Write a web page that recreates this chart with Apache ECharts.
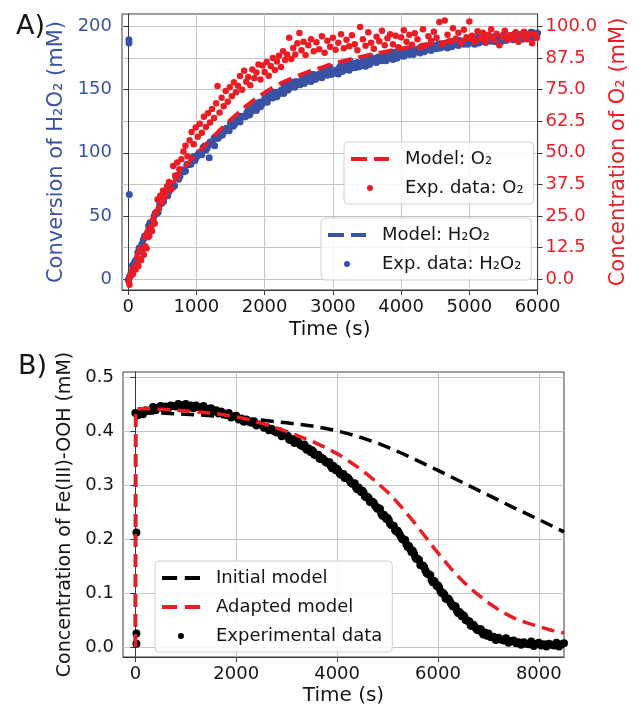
<!DOCTYPE html>
<html><head><meta charset="utf-8">
<script src="https://cdn.jsdelivr.net/npm/echarts@6/dist/echarts.min.js"></script>
<style>html,body{margin:0;padding:0;background:#fff}#c{width:637px;height:707px}</style>
</head><body><div id="c"></div>
<script>
const FONT = 'DejaVu Sans';
const BLUE = '#3a52a4';
const RED = '#ec1c24';
const INK = '#151515';

// ---------- Panel A ----------
const xTicksA = [0, 1000, 2000, 3000, 4000, 5000, 6000];
const yTicksA = [0, 50, 100, 150, 200];
const yTicksA2 = [0, 12.5, 25, 37.5, 50, 62.5, 75, 87.5, 100];

// Exp. data H2O2 (time s, conversion mM)
const h2o2Exp = [[0,-0.5],[40,4.5],[80,12],[120,15.5],[160,24.5],[200,27.5],[240,34],[280,35],[320,44.5],[360,45.5],
[400,52.5],[440,53],[480,59.5],[520,61.5],[560,68.5],[600,69.5],[640,74],[680,74],[720,82],[760,81.5],
[800,86.5],[840,85.5],[880,90.5],[920,91],[960,97],[1000,96.5],[1040,100],[1080,98.5],[1120,105.5],[1160,104],
[1200,108.5],[1240,107],[1280,111.5],[1320,111.5],[1360,117],[1400,116.5],[1440,119.5],[1480,117.5],[1520,124.5],[1560,122.5],
[1600,126.5],[1640,124.5],[1680,128.5],[1720,128.5],[1760,133.5],[1800,132.5],[1840,135.5],[1880,133.5],[1920,140],[1960,138.5],
[2000,142.5],[2040,140],[2080,144],[2120,143.5],[2160,148],[2200,146.5],[2240,149.5],[2280,147],[2320,153.5],[2360,151],
[2400,154.5],[2440,152],[2480,155.5],[2520,154],[2560,158.5],[2600,156.5],[2640,159],[2680,156.5],[2720,162],[2760,159],
[2800,162.5],[2840,159.5],[2880,162.5],[2920,161.5],[2960,165.5],[3000,163.5],[3040,165.5],[3080,162.5],[3120,168.5],[3160,165.5],
[3200,168.5],[3240,165.5],[3280,168.5],[3320,167.5],[3360,171.5],[3400,169.5],[3440,171.5],[3480,168.5],[3520,174.5],[3560,171.5],
[3600,174.5],[3640,171.5],[3680,174.5],[3720,173],[3760,177],[3800,175],[3840,177],[3880,174],[3920,179.5],[3960,176.5],
[4000,179.5],[4040,176.5],[4080,179.5],[4120,178],[4160,182],[4200,180],[4240,182],[4280,179],[4320,184.5],[4360,181.5],
[4400,184],[4440,181],[4480,184],[4520,182.5],[4560,186.5],[4600,184.5],[4640,186],[4680,183],[4720,188.5],[4760,185],
[4800,188],[4840,185],[4880,187.5],[4920,186],[4960,190],[5000,187.5],[5040,189.5],[5080,186],[5120,191.5],[5160,188],
[5200,191],[5240,187.5],[5280,190.5],[5320,188.5],[5360,192],[5400,190],[5440,191.5],[5480,188.5],[5520,193.5],[5560,190],
[5600,193],[5640,189.5],[5680,192.5],[5720,190.5],[5760,194],[5800,192],[5840,193.5],[5880,190.5],[5920,195.5],[5960,192],
[6000,195],
[20,2],[60,10.5],[100,14],[140,21],[180,23],[220,31],[260,33.5],[300,42],[340,42],[380,50],
[420,52],[460,59],[500,60.5],[540,66],[580,66],[620,72],[660,73],[700,80.5],[740,79],[780,85],
[820,85],[860,91],[900,91],[940,95],[980,94],[1020,98.5],[1060,98.5],[1100,104.5],[1140,102],[1180,107],
[1220,107],[1260,112],[1300,111.5],[1340,115.5],[1380,114],[1420,118],[1460,118],[1500,123.5],[1540,121],[1580,125],
[1620,125],[1660,129],[1700,128.5],[1740,132],[1780,130],[1820,134],[1860,134],[1900,139],[1940,136.5],[1980,141],
[2020,140.5],[2060,145],[2100,144],[2140,147],[2180,144.5],[2220,148],[2260,147.5],[2300,153],[2340,149.5],[2380,153.5],
[2420,152.5],[2460,156.5],[2500,155],[2540,157.5],[2580,155],[2620,158],[2660,157],[2700,162],[2740,158],[2780,161.5],
[2820,160.5],[2860,164],[2900,162],[2940,165],[2980,162],[3020,165],[3060,163],[3100,168],[3140,164.5],[3180,168],
[3220,166],[3260,170],[3300,168],[3340,171],[3380,168],[3420,171],[3460,169],[3500,174],[3540,170],[3580,174],
[3620,172],[3660,176],[3700,174],[3740,176],[3780,173],[3820,176],[3860,175],[3900,179],[3940,175],[3980,179],
[4020,177],[4060,181],[4100,179],[4140,181],[4180,178],[4220,181],[4260,180],[4300,184],[4340,180],[4380,183.5],
[4420,182],[4460,185],[4500,183],[4540,186],[4580,183],[4620,185.5],[4660,184],[4700,188],[4740,184],[4780,187],
[4820,186],[4860,189],[4900,187],[4940,189],[4980,186],[5020,189],[5060,187],[5100,191],[5140,187],[5180,190],
[5220,188.5],[5260,192],[5300,189.5],[5340,191.5],[5380,188],[5420,191],[5460,189],[5500,193.5],[5540,189],[5580,192],
[5620,190.5],[5660,194],[5700,191.5],[5740,193.5],[5780,190],[5820,193],[5860,191],[5900,195.5],[5940,191],[5980,194],
[12,189.5],[12,187],[18,67],[1188,96],[1268,105.7]];

// Model H2O2 (time s, conversion mM)
const h2o2Model = [[0,0],[100,15],[200,29],[300,41],[400,52],[500,62],[600,71],[700,79],[800,86],[900,92],[1000,98],
[1200,108],[1400,118],[1600,128],[1800,137],[2000,145],[2200,151],[2400,157],[2600,161],[2800,165],[3000,169],
[3250,173],[3500,176],[3750,179],[4000,182],[4250,184],[4500,186],[4750,188],[5000,189.5],[5500,192],[6000,194]];

// Exp. data O2 (time s, concentration mM)
const o2Exp = [[10,-1.0],[20,-2.3],[30,0.8],[50,1.5],[70,2.0],[90,4.5],[110,3.8],[130,6.0],[150,5.2],[170,8.0],
[190,7.4],[210,11.5],[230,9.6],[250,13.0],[270,12.2],[290,16.5],[310,17.0],[330,20.5],[350,19.0],[370,23.4],
[390,22.0],[410,26.5],[430,31.5],[450,28.0],[470,33.0],[490,30.2],[510,35.0],[540,32.5],[570,36.8],[600,38.4],
[630,35.6],[660,44.8],[690,41.0],[720,46.2],[750,43.5],[780,47.5],[810,50.5],[840,52.8],[870,48.6],[900,55.0],
[930,58.2],[960,53.4],[990,60.0],[1020,56.4],[1050,61.5],[1080,58.0],[1110,64.3],[1140,60.2],[1170,65.7],[1200,62.0],
[1230,67.4],[1260,63.8],[1290,69.6],[1310,76.5],[1340,66.0],[1370,71.8],[1400,68.5],[1430,74.5],[1460,70.2],[1490,76.0],
[1520,72.4],[1550,78.0],[1580,74.0],[1610,76.6],[1640,80.4],[1670,75.0],[1700,82.5],[1730,78.2],[1760,80.0],[1790,76.8],
[1820,83.0],[1850,79.5],[1880,81.8],[1910,85.0],[1940,79.0],[1970,84.6],[2000,82.0],[2030,86.0],[2060,80.5],[2090,84.4],
[2120,87.6],[2150,82.8],[2180,86.2],[2210,88.5],[2240,84.0],[2270,90.2],[2300,86.8],[2330,89.0],[2360,95.6],[2390,87.2],
[2420,91.5],[2450,89.0],[2480,93.4],[2510,97.5],[2540,90.6],[2570,94.0],[2600,88.8],[2640,92.6],[2680,95.0],[2720,90.2],
[2760,93.8],[2800,91.0],[2840,96.2],[2880,89.6],[2920,94.4],[2960,92.0],[3000,95.6],[3040,90.8],[3080,93.6],[3120,97.0],
[3160,91.4],[3200,94.8],[3240,92.2],[3280,96.6],[3320,93.0],[3360,90.6],[3400,99.8],[3440,95.0],[3480,92.4],[3520,97.8],
[3560,93.6],[3600,91.2],[3640,96.0],[3680,94.2],[3720,98.4],[3760,92.6],[3800,95.4],[3840,97.0],[3880,93.0],[3920,96.4],
[3960,91.8],[4000,95.8],[4040,98.6],[4080,94.0],[4120,96.8],[4160,92.8],[4200,97.4],[4240,95.0],[4280,91.8],[4320,99.0],
[4360,92.4],[4400,96.2],[4440,94.4],[4480,98.0],[4520,95.6],[4560,101.8],[4600,93.0],[4640,102.4],[4680,96.8],[4720,94.2],
[4760,99.4],[4800,95.2],[4840,97.6],[4880,93.4],[4920,98.8],[4960,95.8],[5000,102.0],[5040,96.4],[5080,94.0],[5120,98.2],
[5160,95.2],[5200,97.6],[5240,93.8],[5280,96.8],[5320,99.0],[5360,94.6],[5400,97.2],[5440,92.6],[5480,96.0],[5520,98.4],
[5560,94.8],[5600,96.6],[5640,95.2],[5680,97.8],[5720,94.0],[5760,96.4],[5800,98.0],[5840,95.0],[5880,97.2],[5920,93.4],
[5960,96.8],[5990,95.6]];

// Model O2 (time s, concentration mM)
const o2Model = [[0,0],[100,7.5],[200,14.5],[300,20.5],[400,26],[500,31],[600,35.5],[700,39.5],[800,43.2],[900,46.5],
[1000,49.5],[1200,55],[1400,60.5],[1600,65.5],[1800,70],[2000,73.8],[2200,77],[2400,79.5],[2600,81.7],[2800,83.5],
[3000,85.2],[3250,87],[3500,88.6],[3750,90],[4000,91.3],[4250,92.5],[4500,93.5],[4750,94.3],[5000,95],[5500,96.2],[6000,97.2]];

// ---------- Panel B ----------
const xTicksB = [0, 2000, 4000, 6000, 8000];
const yTicksB = [0, 0.1, 0.2, 0.3, 0.4, 0.5];

const feExp = [[20,0.006],[20,0.025],[20,0.212],
[0,0.433],[50,0.429],[100,0.433],[150,0.431],[200,0.438],[250,0.437],[300,0.438],[350,0.444],[400,0.438],[450,0.443],
[500,0.446],[550,0.442],[600,0.445],[650,0.442],[700,0.447],[750,0.446],[800,0.445],[850,0.450],[900,0.444],[950,0.448],
[1000,0.450],[1050,0.444],[1100,0.447],[1150,0.442],[1200,0.447],[1250,0.444],[1300,0.442],[1350,0.446],[1400,0.438],[1450,0.441],
[1500,0.442],[1550,0.436],[1600,0.438],[1650,0.432],[1700,0.436],[1750,0.432],[1800,0.430],[1850,0.433],[1900,0.425],[1950,0.427],
[2000,0.428],[2050,0.421],[2100,0.423],[2150,0.417],[2200,0.421],[2250,0.417],[2300,0.415],[2350,0.418],[2400,0.410],[2450,0.412],
[2500,0.412],[2550,0.406],[2600,0.407],[2650,0.401],[2700,0.404],[2750,0.400],[2800,0.397],[2850,0.400],[2900,0.390],[2950,0.392],
[3000,0.392],[3050,0.384],[3100,0.385],[3150,0.378],[3200,0.381],[3250,0.376],[3300,0.372],[3350,0.375],[3400,0.365],[3450,0.366],
[3500,0.364],[3550,0.356],[3600,0.356],[3650,0.349],[3700,0.350],[3750,0.345],[3800,0.341],[3850,0.342],[3900,0.331],[3950,0.332],
[4000,0.330],[4050,0.321],[4100,0.320],[4150,0.313],[4200,0.314],[4250,0.308],[4300,0.302],[4350,0.303],[4400,0.292],[4450,0.291],
[4500,0.289],[4550,0.279],[4600,0.278],[4650,0.269],[4700,0.269],[4750,0.262],[4800,0.256],[4850,0.256],[4900,0.243],[4950,0.242],
[5000,0.239],[5050,0.228],[5100,0.225],[5150,0.216],[5200,0.215],[5250,0.207],[5300,0.199],[5350,0.198],[5400,0.185],[5450,0.182],
[5500,0.178],[5550,0.166],[5600,0.163],[5650,0.152],[5700,0.151],[5750,0.142],[5800,0.135],[5850,0.133],[5900,0.120],[5950,0.118],
[6000,0.114],[6050,0.103],[6100,0.100],[6150,0.090],[6200,0.090],[6250,0.082],[6300,0.075],[6350,0.075],[6400,0.063],[6450,0.062],
[6500,0.059],[6550,0.050],[6600,0.048],[6650,0.040],[6700,0.041],[6750,0.035],[6800,0.031],[6850,0.033],[6900,0.023],[6950,0.025],
[7000,0.025],[7050,0.018],[7100,0.019],[7150,0.013],[7200,0.017],[7250,0.014],[7300,0.012],[7350,0.016],[7400,0.008],[7450,0.011],
[7500,0.012],[7550,0.007],[7600,0.009],[7650,0.004],[7700,0.009],[7750,0.006],[7800,0.005],[7850,0.010],[7900,0.002],[7950,0.006],
[8000,0.008],[8050,0.003],[8100,0.005],[8150,0.001],[8200,0.006],[8250,0.004],[8300,0.003],[8350,0.008],[8400,0.001],[8450,0.005],
[8500,0.007],
[3025,0.390],[3075,0.383],[3125,0.384],[3175,0.378],[3225,0.380],[3275,0.374],[3325,0.374],[3375,0.368],[3425,0.368],[3475,0.361],
[3525,0.362],[3575,0.356],[3625,0.356],[3675,0.348],[3725,0.348],[3775,0.342],[3825,0.342],[3875,0.335],[3925,0.335],[3975,0.327],
[4025,0.326],[4075,0.319],[4125,0.320],[4175,0.313],[4225,0.312],[4275,0.304],[4325,0.302],[4375,0.295],[4425,0.295],[4475,0.287],
[4525,0.286],[4575,0.277],[4625,0.276],[4675,0.268],[4725,0.267],[4775,0.259],[4825,0.257],[4875,0.247],[4925,0.245],[4975,0.237],
[5025,0.235],[5075,0.226],[5125,0.224],[5175,0.214],[5225,0.211],[5275,0.202],[5325,0.199],[5375,0.190],[5425,0.187],[5475,0.176],
[5525,0.173],[5575,0.163],[5625,0.161],[5675,0.151],[5725,0.148],[5775,0.137],[5825,0.134],[5875,0.124],[5925,0.122],[5975,0.113],
[6025,0.110],[6075,0.100],[6125,0.097],[6175,0.089],[6225,0.087],[6275,0.078],[6325,0.076],[6375,0.067],[6425,0.065],[6475,0.057],
[6525,0.056],[6575,0.049],[6625,0.047],[6675,0.039],[6725,0.038],[6775,0.032],[6825,0.033],[6875,0.027],[6925,0.027],[6975,0.021]];

const initialModel = [[0,0],[5,0.434],[500,0.433],[1000,0.431],[1500,0.428],[2000,0.424],[2500,0.420],[3000,0.415],[3500,0.409],
[3750,0.405],[4000,0.400],[4250,0.394],[4500,0.387],[4750,0.379],[5000,0.370],[5250,0.360],[5500,0.349],[5750,0.338],[6000,0.327],
[6500,0.304],[7000,0.281],[7500,0.258],[8000,0.236],[8500,0.213]];

const adaptedModel = [[0,0],[5,0.441],[250,0.441],[500,0.440],[750,0.439],[1000,0.437],[1250,0.435],[1500,0.433],[1750,0.430],
[2000,0.426],[2250,0.421],[2500,0.414],[2750,0.407],[3000,0.399],[3250,0.390],[3500,0.381],[3750,0.370],[4000,0.358],[4250,0.343],
[4500,0.327],[4750,0.308],[5000,0.287],[5250,0.262],[5500,0.234],[5750,0.204],[6000,0.174],[6250,0.146],[6500,0.121],[6750,0.100],
[7000,0.082],[7250,0.066],[7500,0.054],[7750,0.045],[8000,0.038],[8250,0.031],[8500,0.026]];

// ---------- chart ----------
const chart = echarts.init(document.getElementById('c'), null, {renderer: 'canvas'});

const DASH_A = 'path://M0,0H16V4H0Z M23,0H38V4H23Z';
const DASH_B = 'path://M0,0H14V3.5H0Z M21,0H35V3.5H21Z';

const gridLine = {show: true, lineStyle: {color: '#c6c6c6', width: 1}};
function xAxisCfg(grid, min, max, ticks, gap) {
  return {
    gridIndex: grid, type: 'value', min: min, max: max,
    axisLine: {show: true, onZero: false, lineStyle: {color: '#3a3a3a'}},
    axisTick: {show: true, length: 5, customValues: ticks, lineStyle: {color: '#3a3a3a'}},
    axisLabel: {customValues: ticks, formatter: v => String(v), color: INK, fontSize: 18, fontFamily: FONT, margin: 8},
    splitLine: gridLine,
    name: 'Time (s)', nameLocation: 'middle', nameGap: gap,
    nameTextStyle: {fontSize: 20, color: INK, fontFamily: FONT}
  };
}
const legendBase = {
  orient: 'vertical', itemWidth: 38, itemHeight: 6, itemGap: 9, selectedMode: false,
  padding: [7, 10, 6, 7], backgroundColor: 'rgba(255,255,255,0.85)',
  borderColor: '#d0d0d0', borderWidth: 1, borderRadius: 4,
  textStyle: {fontFamily: FONT, fontSize: 18, color: INK, lineHeight: 20, padding: [0, 0, 0, 11]}
};

chart.setOption({
  animation: false,
  backgroundColor: '#ffffff',
  title: [
    {text: 'A)', left: 11, top: 8, textStyle: {fontSize: 27, fontWeight: 'normal', fontFamily: FONT, color: INK}},
    {text: 'B)', left: 13, top: 348, textStyle: {fontSize: 27, fontWeight: 'normal', fontFamily: FONT, color: INK}}
  ],
  grid: [
    {left: 122, top: 14, width: 427, height: 276, show: true, borderColor: '#3a3a3a', borderWidth: 1, backgroundColor: 'transparent'},
    {left: 123, top: 372, width: 441, height: 285, show: true, borderColor: '#3a3a3a', borderWidth: 1, backgroundColor: 'transparent'}
  ],
  xAxis: [
    xAxisCfg(0, -90, 6000, xTicksA, 30),
    xAxisCfg(1, -246, 8500, xTicksB, 29)
  ],
  yAxis: [
    {gridIndex: 0, type: 'value', position: 'left', min: -8.7, max: 210,
     axisLine: {show: true, lineStyle: {color: '#3a3a3a'}},
     axisTick: {show: true, length: 5, customValues: yTicksA, lineStyle: {color: '#3a3a3a'}},
     axisLabel: {customValues: yTicksA, formatter: v => String(v), color: BLUE, fontSize: 18, fontFamily: FONT, margin: 10},
     splitLine: gridLine,
     name: 'Conversion of H\u2082O\u2082 (mM)', nameLocation: 'middle', nameRotate: 90, nameGap: 52,
     nameTextStyle: {fontSize: 21, color: BLUE, fontFamily: FONT}},
    {gridIndex: 0, type: 'value', position: 'right', min: -4.35, max: 105,
     axisLine: {show: true, lineStyle: {color: '#3a3a3a'}},
     axisTick: {show: true, length: 5, customValues: yTicksA2, lineStyle: {color: '#3a3a3a'}},
     axisLabel: {customValues: yTicksA2, formatter: v => v.toFixed(1), color: RED, fontSize: 18, fontFamily: FONT, margin: 8},
     splitLine: gridLine,
     name: 'Concentration of O\u2082 (mM)', nameLocation: 'middle', nameRotate: 90, nameGap: 68,
     nameTextStyle: {fontSize: 21, color: RED, fontFamily: FONT}},
    {gridIndex: 1, type: 'value', min: -0.0185, max: 0.509,
     axisLine: {show: true, lineStyle: {color: '#3a3a3a'}},
     axisTick: {show: true, length: 5, customValues: yTicksB, lineStyle: {color: '#3a3a3a'}},
     axisLabel: {customValues: yTicksB, formatter: v => v.toFixed(1), color: INK, fontSize: 18, fontFamily: FONT, margin: 9},
     splitLine: gridLine,
     name: 'Concentration of Fe(III)-OOH (mM)', nameLocation: 'middle', nameRotate: 90, nameGap: 46,
     nameTextStyle: {fontSize: 19, color: INK, fontFamily: FONT}}
  ],
  legend: [
    Object.assign({}, legendBase, {left: 344, top: 142,
      data: [{name: 'Model: O\u2082', icon: DASH_A}, {name: 'Exp. data: O\u2082', icon: 'circle'}]}),
    Object.assign({}, legendBase, {left: 321, top: 218,
      data: [{name: 'Model: H\u2082O\u2082', icon: DASH_A}, {name: 'Exp. data: H\u2082O\u2082', icon: 'circle'}]}),
    Object.assign({}, legendBase, {left: 155, top: 561,
      data: [{name: 'Initial model', icon: DASH_B}, {name: 'Adapted model', icon: DASH_B}, {name: 'Experimental data', icon: 'circle'}]})
  ],
  series: [
    {name: 'Exp. data: H\u2082O\u2082', type: 'scatter', xAxisIndex: 0, yAxisIndex: 0, data: h2o2Exp,
     symbolSize: 7, itemStyle: {color: BLUE, opacity: 1}, z: 2},
    {name: 'Model: H\u2082O\u2082', type: 'line', xAxisIndex: 0, yAxisIndex: 0, data: h2o2Model, smooth: true,
     symbol: 'none', lineStyle: {color: BLUE, width: 4, type: [14, 7]}, itemStyle: {color: BLUE}, z: 3},
    {name: 'Exp. data: O\u2082', type: 'scatter', xAxisIndex: 0, yAxisIndex: 1, data: o2Exp,
     symbolSize: 6.5, itemStyle: {color: RED, opacity: 1}, z: 4},
    {name: 'Model: O\u2082', type: 'line', xAxisIndex: 0, yAxisIndex: 1, data: o2Model, smooth: true,
     symbol: 'none', lineStyle: {color: RED, width: 4, type: [14, 7]}, itemStyle: {color: RED}, z: 5},
    {name: 'Experimental data', type: 'scatter', xAxisIndex: 1, yAxisIndex: 2, data: feExp,
     symbolSize: 8, itemStyle: {color: '#000000', opacity: 1}, z: 2},
    {name: 'Initial model', type: 'line', xAxisIndex: 1, yAxisIndex: 2, data: initialModel,
     symbol: 'none', lineStyle: {color: '#000000', width: 3.5, type: [13, 7]}, itemStyle: {color: '#000000'}, z: 3},
    {name: 'Adapted model', type: 'line', xAxisIndex: 1, yAxisIndex: 2, data: adaptedModel,
     symbol: 'none', lineStyle: {color: RED, width: 3.5, type: [13, 7]}, itemStyle: {color: RED}, z: 4}
  ]
});
</script></body></html>
